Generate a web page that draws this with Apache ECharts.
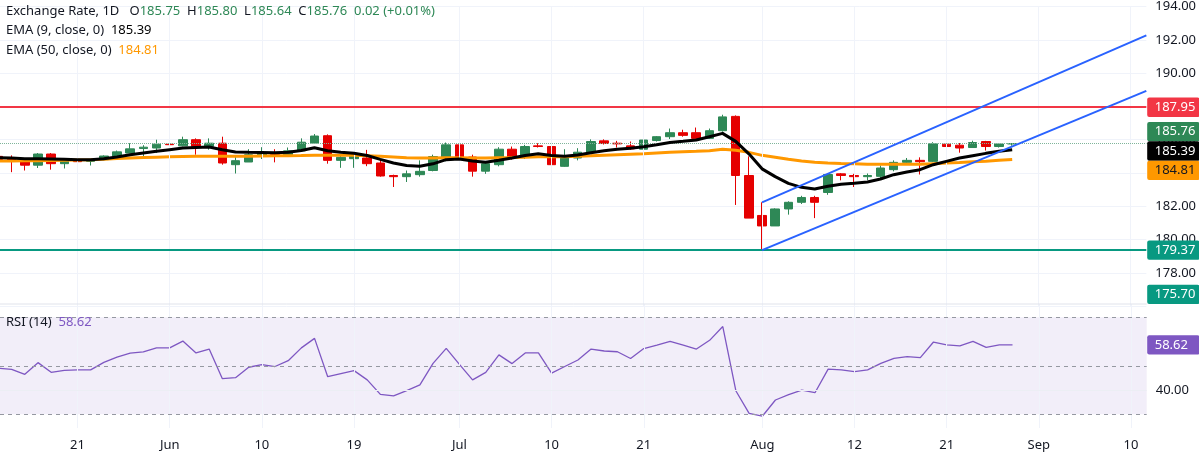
<!DOCTYPE html>
<html>
<head>
<meta charset="utf-8">
<title>Exchange Rate, 1D</title>
<script src="https://cdn.jsdelivr.net/npm/echarts/dist/echarts.min.js"></script>
<style>
  html, body { margin: 0; padding: 0; background: #fff; }
  #chart { width: 1199px; height: 453px; }
</style>
</head>
<body>
<div id="chart"></div>
<script>
// bar index of the first candle (index 0 = "21" tick)
var firstBar = -6;

var opens = [185.0, 184.84, 184.76, 184.47, 185.14, 184.56,
  184.74, 184.70, 184.80, 185.0, 185.2, 185.47, 185.5, 185.73, 185.63, 186.0,
  185.6, 185.79, 184.5, 184.66, 185.08, 185.2, 185.1, 185.33, 185.8, 186.24,
  184.76, 184.86, 184.9, 184.6, 183.85, 183.78, 183.9, 184.15, 184.96, 185.69,
  184.96, 184.11, 184.5, 185.43, 184.96, 185.63, 185.59, 184.4, 184.9, 185.23,
  185.93, 185.79, 185.63, 185.43, 185.95, 186.18, 186.42, 186.42, 186.08, 186.54,
  187.4, 183.85, 181.45, 180.82, 181.84, 182.24, 182.53, 182.83, 183.95, 183.85,
  183.78, 183.8, 184.2, 184.64, 184.76, 184.7, 185.73, 185.67, 185.53, 185.89,
  185.59, 185.75];
var highs = [185.06, 185.06, 184.9, 185.2, 185.2, 184.84,
  184.94, 184.84, 185.06, 185.35, 185.79, 185.67, 186.0, 185.98, 186.18, 186.08,
  186.08, 186.18, 184.96, 185.43, 185.55, 185.43, 185.53, 186.08, 186.34, 186.32,
  185.04, 185.1, 185.39, 184.84, 183.9, 184.15, 184.76, 185.1, 185.83, 185.73,
  185.1, 184.6, 185.55, 185.59, 185.69, 185.79, 185.69, 185.43, 185.49, 186.02,
  186.02, 185.93, 185.89, 186.08, 186.22, 186.67, 186.6, 186.73, 186.67, 187.5,
  187.46, 185.0, 182.24, 181.88, 182.3, 182.63, 182.63, 184.0, 184.0, 183.95,
  183.97, 184.45, 184.76, 184.9, 184.94, 185.85, 186.02, 185.8, 185.94, 185.93,
  185.75, 185.80];
var lows = [184.7, 184.05, 184.15, 184.3, 184.2, 184.27,
  184.41, 184.45, 184.76, 184.9, 185.2, 184.92, 185.2, 185.39, 185.6, 185.1,
  185.4, 184.5, 183.97, 184.66, 184.84, 184.64, 185.1, 185.3, 185.76, 184.56,
  184.31, 184.31, 184.41, 183.78, 183.16, 183.46, 183.78, 184.1, 184.7, 184.9,
  183.78, 183.95, 184.4, 184.8, 184.84, 185.53, 184.47, 184.37, 184.76, 185.2,
  185.71, 185.53, 185.39, 185.39, 185.89, 186.04, 186.18, 186.02, 186.04, 186.48,
  182.08, 181.29, 179.37, 180.82, 181.5, 182.14, 181.29, 182.69, 183.56, 183.16,
  183.58, 183.58, 184.1, 184.5, 183.91, 184.66, 185.49, 185.22, 185.53, 185.35,
  185.53, 185.64];
var closes = [184.82, 184.80, 184.47, 185.14, 184.56, 184.74,
  184.68, 184.74, 185.02, 185.27, 185.45, 185.55, 185.73, 185.70, 186.0, 185.6,
  185.79, 184.6, 184.74, 185.1, 185.23, 185.12, 185.33, 185.85, 186.22, 184.76,
  184.94, 185.06, 184.56, 183.82, 183.78, 183.95, 184.1, 184.99, 185.69, 184.96,
  184.11, 184.56, 185.43, 184.96, 185.59, 185.59, 184.5, 184.9, 185.25, 185.89,
  185.77, 185.75, 185.45, 185.98, 186.18, 186.42, 186.26, 186.08, 186.54, 187.37,
  183.85, 181.29, 180.82, 181.84, 182.24, 182.53, 182.24, 183.91, 183.85, 183.78,
  183.85, 184.3, 184.64, 184.76, 184.68, 185.75, 185.59, 185.5, 185.83, 185.59,
  185.74, 185.76];

var ema9 = [184.92, 184.9, 184.86, 184.86, 184.84, 184.82,
  184.8, 184.8, 184.86, 184.96, 185.1, 185.2, 185.3, 185.4, 185.5, 185.53,
  185.56, 185.4, 185.26, 185.24, 185.23, 185.22, 185.24, 185.35, 185.52, 185.34,
  185.25, 185.18, 185.05, 184.82, 184.6, 184.45, 184.4, 184.55, 184.8, 184.84,
  184.72, 184.64, 184.76, 184.9, 185.05, 185.16, 185.05, 185.0, 185.08, 185.22,
  185.33, 185.42, 185.48, 185.58, 185.7, 185.83, 185.9, 185.98, 186.18, 186.38,
  185.9, 185.15, 184.25, 183.78, 183.38, 183.14, 183.04, 183.2, 183.32, 183.38,
  183.46, 183.64, 183.9, 184.06, 184.2, 184.5, 184.7, 184.9, 185.04, 185.18,
  185.3, 185.39];
var ema50 = [184.72, 184.72, 184.73, 184.74, 184.75, 184.76,
  184.78, 184.8, 184.83, 184.87, 184.9, 184.93, 184.95, 184.97, 184.99, 185.0,
  185.01, 185.0, 185.0, 185.01, 185.02, 185.03, 185.04, 185.05, 185.07, 185.06,
  185.06, 185.06, 185.04, 185.0, 184.96, 184.92, 184.9, 184.9, 184.92, 184.92,
  184.9, 184.9, 184.92, 184.93, 184.95, 184.97, 184.98, 184.98, 185.0, 185.03,
  185.07, 185.1, 185.13, 185.16, 185.2, 185.24, 185.27, 185.3, 185.34, 185.42,
  185.36, 185.24, 185.06, 184.94, 184.82, 184.72, 184.65, 184.6, 184.57, 184.55,
  184.53, 184.52, 184.52, 184.52, 184.52, 184.56, 184.6, 184.63, 184.67, 184.71,
  184.76, 184.81];
var rsi = [48.97, 48.56, 46.5, 51.3, 47.3, 48.1,
  48.3, 48.3, 51.4, 53.6, 55.2, 55.7, 57.4, 57.4, 60.2, 55.3,
  56.9, 44.7, 45.1, 49.4, 50.5, 49.7, 52.1, 57.4, 61.3, 45.5,
  46.8, 48.0, 44.2, 38.2, 37.6, 39.8, 42.1, 51.0, 57.2, 50.6,
  44.2, 47.3, 54.5, 50.9, 55.3, 55.3, 47.0, 49.7, 52.4, 56.9,
  56.1, 55.8, 53.0, 57.1, 58.5, 60.1, 58.5, 56.9, 60.5, 66.2,
  39.6, 30.4, 29.2, 35.9, 38.1, 40.0, 38.9, 48.6, 48.3, 47.6,
  48.3, 51.0, 53.1, 53.8, 53.4, 59.8, 58.6, 58.2, 60.1, 57.6,
  58.6, 58.62];

var tickBars = [0, 7, 14, 21, 29, 36, 43, 52, 59, 66, 73, 80];
var tickLabels = ['21', 'Jun', '10', '19', 'Jul', '10', '21', 'Aug', '12', '21', 'Sep', '10'];

var resistance = 187.95;
var support = 179.37;
var lowerTag = 175.70;
var channelUpper = [[52, 182.24], [81.19, 192.27]];
var channelLower = [[52, 179.37], [81.19, 188.93]];
var rsiLevels = [70, 50, 30];
var rsiGrid = 40;

// visible bar range and pane geometry
var xMin = -5.885, xMax = 81.19;
var plotW = 1146.7;
var mainTop = 0.6, mainH = 305.6, paneSplit = 304, rsiH = 124;

var green = '#2e8856', red = '#e50000', ink = '#131722', font = 'Noto Sans';

var last = opens.length - 1;
var candles = opens.map(function(o, k) {
  return [firstBar + k, o, closes[k], lows[k], highs[k]];
});
function pairs(arr) {
  return arr.map(function(v, k) { return [firstBar + k, v]; });
}

var chart = echarts.init(document.getElementById('chart'));

var option = {
  animation: false,
  backgroundColor: '#fff',
  grid: [
    { left: 0, top: mainTop, width: plotW, height: mainH },
    { left: 0, top: paneSplit, width: plotW, height: rsiH }
  ],
  xAxis: [
    { type: 'value', gridIndex: 0, min: xMin, max: xMax, show: false },
    { type: 'value', gridIndex: 1, min: xMin, max: xMax, show: false }
  ],
  yAxis: [
    {
      type: 'value', gridIndex: 0, position: 'right', min: 176, max: 194, interval: 2,
      axisLine: { show: false }, axisTick: { show: false },
      axisLabel: {
        showMinLabel: false, color: ink, fontSize: 13, fontFamily: font, margin: 9,
        formatter: function(v) { return v.toFixed(2); }
      },
      splitLine: { lineStyle: { color: '#f0f3fa', width: 1 } }
    },
    { type: 'value', gridIndex: 1, min: 24.35, max: 75.48, show: false }
  ],
  series: [
    {
      // vertical grid, price pane
      type: 'line', xAxisIndex: 0, yAxisIndex: 0, data: [], z: 1, silent: true,
      markLine: {
        silent: true, symbol: 'none', animation: false,
        label: { show: false },
        lineStyle: { color: '#f0f3fa', width: 1, type: 'solid' },
        data: tickBars.map(function(b) { return { xAxis: b }; })
      }
    },
    {
      type: 'candlestick', xAxisIndex: 0, yAxisIndex: 0, data: candles, barWidth: 9, z: 3,
      itemStyle: { color: green, color0: red, borderColor: green, borderColor0: red, borderWidth: 1 },
      markLine: {
        silent: true, symbol: 'none', animation: false,
        label: { show: false },
        data: [
          { yAxis: resistance, lineStyle: { color: '#f23645', width: 2, type: 'solid' } },
          { yAxis: support, lineStyle: { color: '#089981', width: 2, type: 'solid' } },
          { yAxis: closes[last], lineStyle: { color: '#7fb59a', width: 1, type: 'dotted' } }
        ]
      }
    },
    {
      name: 'EMA50', type: 'line', xAxisIndex: 0, yAxisIndex: 0, data: pairs(ema50), z: 4,
      symbol: 'none', lineStyle: { color: '#ff9800', width: 3 }
    },
    {
      name: 'EMA9', type: 'line', xAxisIndex: 0, yAxisIndex: 0, data: pairs(ema9), z: 5,
      symbol: 'none', lineStyle: { color: '#000', width: 3 }
    },
    {
      type: 'line', xAxisIndex: 0, yAxisIndex: 0, data: channelUpper, z: 6,
      symbol: 'none', lineStyle: { color: '#2962ff', width: 2 }
    },
    {
      type: 'line', xAxisIndex: 0, yAxisIndex: 0, data: channelLower, z: 6,
      symbol: 'none', lineStyle: { color: '#2962ff', width: 2 }
    },
    {
      // vertical grid + date labels, RSI pane
      type: 'line', xAxisIndex: 1, yAxisIndex: 1, data: [], z: 1, silent: true,
      markLine: {
        silent: true, symbol: 'none', animation: false,
        lineStyle: { color: '#f0f3fa', width: 1, type: 'solid' },
        label: { show: true, position: 'start', distance: 11, color: ink, fontSize: 13, fontFamily: font },
        data: tickBars.map(function(b, k) {
          return { xAxis: b, label: { formatter: tickLabels[k] } };
        })
      }
    },
    {
      name: 'RSI', type: 'line', xAxisIndex: 1, yAxisIndex: 1, data: pairs(rsi), z: 4,
      symbol: 'none', lineStyle: { color: '#7e57c2', width: 1.3 },
      markArea: {
        silent: true,
        itemStyle: { color: 'rgba(126,87,194,0.1)' },
        data: [[{ yAxis: rsiLevels[2] }, { yAxis: rsiLevels[0] }]]
      },
      markLine: {
        silent: true, symbol: 'none', animation: false,
        data: rsiLevels.map(function(v) {
          return { yAxis: v, label: { show: false }, lineStyle: { color: '#9598a1', width: 1, type: [4, 4] } };
        }).concat([{
          yAxis: rsiGrid, lineStyle: { color: '#eceef4', width: 1, type: 'solid' },
          label: { show: true, position: 'end', distance: 9, color: ink, fontSize: 13, fontFamily: font,
            formatter: rsiGrid.toFixed(2) }
        }])
      }
    }
  ]
};
chart.setOption(option);

// legends
var chg = closes[last] - closes[last - 1];
var pct = chg / closes[last - 1] * 100;
var sgn = chg >= 0 ? '+' : '';
var rich = {
  l: { fill: ink, fontSize: 13, fontFamily: font },
  v: { fill: green, fontSize: 13, fontFamily: font },
  k: { fill: '#000', fontSize: 13, fontFamily: font },
  o: { fill: '#ff9800', fontSize: 13, fontFamily: font },
  p: { fill: '#7e57c2', fontSize: 13, fontFamily: font }
};
function legend(y, text) {
  return { type: 'text', x: 6, y: y, z: 50, style: { text: text, rich: rich, verticalAlign: 'middle', fontSize: 13, fontFamily: font, fill: ink } };
}
var graphics = [
  { type: 'line', z: 40, shape: { x1: 0, y1: paneSplit, x2: plotW, y2: paneSplit }, style: { stroke: '#e0e3eb', lineWidth: 1 } },
  legend(11, '{l|Exchange Rate, 1D}   {l|O}{v|' + opens[last].toFixed(2) + '}  {l|H}{v|' + highs[last].toFixed(2) +
    '}  {l|L}{v|' + lows[last].toFixed(2) + '}  {l|C}{v|' + closes[last].toFixed(2) + '}  {v|' +
    chg.toFixed(2) + ' (' + sgn + pct.toFixed(2) + '%)}'),
  legend(30.5, '{l|EMA (9, close, 0)}  {k|' + ema9[last].toFixed(2) + '}'),
  legend(50, '{l|EMA (50, close, 0)}  {o|' + ema50[last].toFixed(2) + '}'),
  legend(322, '{l|RSI (14)}  {p|' + rsi[last].toFixed(2) + '}')
];

// price tags on the right scale
var tagValues = [resistance, closes[last], ema9[last], ema50[last], support, lowerTag];
var tagFill = ['#f23645', green, '#000', '#ff9800', '#089981', '#089981'];
var tagInk = ['#fff', '#fff', '#fff', ink, '#fff', '#fff'];
var tagH = 19.3;

function spread(ys, h) {
  var order = ys.map(function(y, k) { return k; }).sort(function(a, b) { return ys[a] - ys[b]; });
  var groups = order.map(function(k) { return { ids: [k], c: ys[k] }; });
  var merged = true;
  while (merged) {
    merged = false;
    for (var g = 0; g < groups.length - 1; g++) {
      var A = groups[g], B = groups[g + 1];
      if (A.c + A.ids.length * h / 2 > B.c - B.ids.length * h / 2) {
        var ids = A.ids.concat(B.ids);
        var c = ids.reduce(function(s, k) { return s + ys[k]; }, 0) / ids.length;
        groups.splice(g, 2, { ids: ids, c: c });
        merged = true;
        break;
      }
    }
  }
  var out = [];
  groups.forEach(function(G) {
    G.ids.forEach(function(k, j) { out[k] = G.c + (j - (G.ids.length - 1) / 2) * h; });
  });
  return out;
}

function tag(y, text, fill, color) {
  return [
    { type: 'rect', z: 100, zlevel: 1, shape: { x: plotW + 0.5, y: y - tagH / 2, width: 1199 - plotW, height: tagH, r: 2 }, style: { fill: fill } },
    { type: 'text', z: 101, zlevel: 1, x: plotW + 8, y: y, style: { text: text, fill: color, fontSize: 13, fontFamily: font, verticalAlign: 'middle' } }
  ];
}

var wanted = tagValues.map(function(v) {
  var y = chart.convertToPixel({ yAxisIndex: 0 }, v);
  return Math.min(Math.max(y, tagH / 2), paneSplit - tagH / 2);
});
var placed = spread(wanted, tagH);
placed.forEach(function(y, k) {
  graphics = graphics.concat(tag(y, tagValues[k].toFixed(2), tagFill[k], tagInk[k]));
});
var rsiY = chart.convertToPixel({ yAxisIndex: 1 }, rsi[last]);
graphics = graphics.concat(tag(rsiY, rsi[last].toFixed(2), '#7e57c2', '#fff'));

chart.setOption({ graphic: graphics });
</script>
</body>
</html>
